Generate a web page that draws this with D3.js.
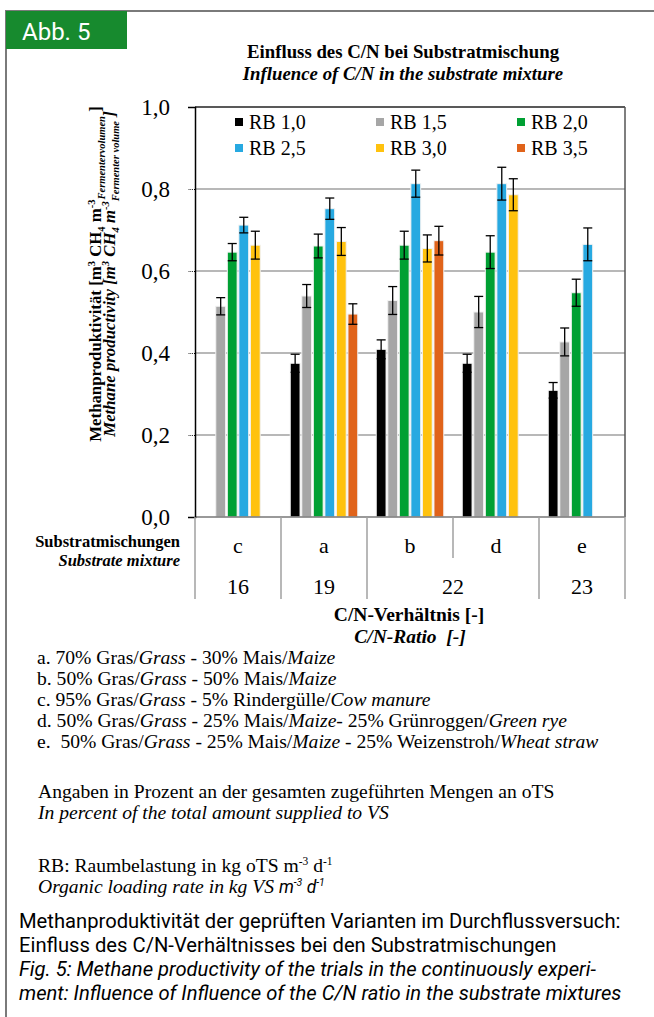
<!DOCTYPE html>
<html><head><meta charset="utf-8">
<script src="https://cdn.jsdelivr.net/npm/d3@7"></script>
<style>
html,body{margin:0;padding:0;background:#fff;}
svg text{font-family:"Liberation Serif","Times New Roman",serif;white-space:pre;}
.sans{font-family:Roboto,"Liberation Sans",sans-serif !important;}
</style></head>
<body><svg id="c" width="654" height="1017"></svg>
<script>
const categories = ["c", "a", "b", "d", "e"];
const cnLabels = ["16", "19", "22", "23"];
const cnSpanCount = [1, 1, 2, 1];
const series = ["RB 1,0", "RB 1,5", "RB 2,0", "RB 2,5", "RB 3,0", "RB 3,5"];
const colors = ["#000000", "#a6a6a6", "#00a033", "#27a9e1", "#ffc20e", "#e0631a"];
const rb10 = [null, 0.375, 0.409, 0.375, 0.309];
const rb15 = [0.514, 0.539, 0.528, 0.500, 0.427];
const rb20 = [0.646, 0.661, 0.663, 0.646, 0.547];
const rb25 = [0.712, 0.752, 0.813, 0.813, 0.665];
const rb30 = [0.663, 0.672, 0.655, 0.786, null];
const rb35 = [null, 0.495, 0.674, null, null];
const err10 = [null, 0.022, 0.023, 0.022, 0.019];
const err15 = [0.021, 0.028, 0.034, 0.038, 0.034];
const err20 = [0.021, 0.029, 0.034, 0.040, 0.033];
const err25 = [0.019, 0.026, 0.033, 0.040, 0.040];
const err30 = [0.034, 0.034, 0.033, 0.039, null];
const err35 = [null, 0.025, 0.035, null, null];
const yTicks = [0, 0.2, 0.4, 0.6, 0.8, 1.0];

const values = [rb10, rb15, rb20, rb25, rb30, rb35];
const errors = [err10, err15, err20, err25, err30, err35];

const svg = d3.select("#c");
const L = 195, R = 625, T = 107, B = 517;

// frame
svg.append("path").attr("d", `M6,1017 V11 H654`).attr("fill", "none").attr("stroke", "#7a7a7a").attr("stroke-width", 2);
svg.append("rect").attr("x", 6).attr("y", 11).attr("width", 121).attr("height", 38).attr("fill", "#178a2e");
svg.append("text").attr("class", "sans").attr("x", 22).attr("y", 40).attr("fill", "#fff")
  .attr("font-size", 24).text("Abb. 5");

// title
svg.append("text").attr("x", 403).attr("y", 58).attr("text-anchor", "middle").attr("font-size", 18.8).attr("font-weight", "bold")
  .text("Einfluss des C/N bei Substratmischung");
svg.append("text").attr("x", 403).attr("y", 80).attr("text-anchor", "middle").attr("font-size", 18.8).attr("font-weight", "bold").attr("font-style", "italic")
  .text("Influence of C/N in the substrate mixture");

const y = d3.scaleLinear().domain([0, 1]).range([B, T]);
const x0 = d3.scaleBand().domain(categories).range([L, R]).padding(0);
const x1 = d3.scaleBand().domain(series).range([0, x0.bandwidth()]).paddingInner(0.15).paddingOuter(0.8);

// gridlines
svg.append("g").selectAll("line").data(yTicks.filter(d => d > 0 && d < 1)).join("line")
  .attr("x1", L).attr("x2", R).attr("y1", d => y(d)).attr("y2", d => y(d))
  .attr("stroke", "#a0a0a0").attr("stroke-width", 1.5);

// bars
const flat = [];
categories.forEach((c, ci) => series.forEach((s, si) => {
  if (values[si][ci] != null) flat.push({c, s, si, v: values[si][ci], e: errors[si][ci]});
}));
svg.append("g").selectAll("rect").data(flat).join("rect")
  .attr("x", d => x0(d.c) + x1(d.s)).attr("y", d => y(d.v))
  .attr("width", x1.bandwidth()).attr("height", d => y(0) - y(d.v))
  .attr("fill", d => colors[d.si]).attr("stroke", "#f2f2f2").attr("stroke-width", 1);

// error bars
const eg = svg.append("g").attr("stroke", "#000").attr("stroke-width", 1.3);
flat.forEach(d => {
  const cx = x0(d.c) + x1(d.s) + x1.bandwidth() / 2;
  eg.append("line").attr("x1", cx).attr("x2", cx).attr("y1", y(d.v + d.e)).attr("y2", y(d.v - d.e));
  [d.v + d.e, d.v - d.e].forEach(v => eg.append("line").attr("x1", cx - 4.5).attr("x2", cx + 4.5).attr("y1", y(v)).attr("y2", y(v)));
});

// plot border
svg.append("line").attr("x1", L).attr("x2", R).attr("y1", T).attr("y2", T).attr("stroke", "#222").attr("stroke-width", 1.5);
svg.append("line").attr("x1", R).attr("x2", R).attr("y1", T).attr("y2", B).attr("stroke", "#555").attr("stroke-width", 1.5);
svg.append("line").attr("x1", L).attr("x2", R).attr("y1", B).attr("y2", B).attr("stroke", "#777").attr("stroke-width", 1.5);

// y axis
const yAxis = svg.append("g").attr("transform", `translate(${L},0)`)
  .call(d3.axisLeft(y).tickValues(yTicks).tickSize(7).tickPadding(18).tickFormat(d => d3.format(".1f")(d).replace(".", ",")));
yAxis.select(".domain").attr("stroke", "#000").attr("stroke-width", 1.5);
yAxis.selectAll(".tick line").attr("stroke", "#000").attr("stroke-dasharray", "1,1.2");
yAxis.selectAll(".tick text").attr("font-size", 23).attr("font-family", "Liberation Serif, serif").attr("fill", "#000");

// legend
const legX = [235, 376, 517], legY = [122, 148];
series.forEach((s, i) => {
  const lx = legX[i % 3], ly = legY[Math.floor(i / 3)];
  svg.append("rect").attr("x", lx).attr("y", ly - 4).attr("width", 8).attr("height", 8).attr("fill", colors[i]);
  svg.append("text").attr("x", lx + 14).attr("y", ly + 7).attr("font-size", 20).text(s);
});

// category table
const sep = svg.append("g").attr("stroke", "#a0a0a0").attr("stroke-width", 1.5);
categories.forEach((c, i) => {
  const xx = x0(c);
  sep.append("line").attr("x1", xx).attr("x2", xx).attr("y1", B).attr("y2", c === "d" ? 558 : 599);
  svg.append("text").attr("x", xx + x0.bandwidth() / 2).attr("y", 553).attr("text-anchor", "middle").attr("font-size", 22).text(c);
});
sep.append("line").attr("x1", R).attr("x2", R).attr("y1", B).attr("y2", 599);
let idx = 0;
cnLabels.forEach((lab, i) => {
  const first = categories[idx], last = categories[idx + cnSpanCount[i] - 1];
  const cx = (x0(first) + x0(last) + x0.bandwidth()) / 2;
  svg.append("text").attr("x", cx).attr("y", 594).attr("text-anchor", "middle").attr("font-size", 22).text(lab);
  idx += cnSpanCount[i];
});

svg.append("text").attr("x", 180).attr("y", 547).attr("text-anchor", "end").attr("font-size", 16.5).attr("font-weight", "bold").text("Substratmischungen");
svg.append("text").attr("x", 180).attr("y", 566).attr("text-anchor", "end").attr("font-size", 16.5).attr("font-weight", "bold").attr("font-style", "italic").text("Substrate mixture");

svg.append("text").attr("x", 409).attr("y", 621).attr("text-anchor", "middle").attr("font-size", 19.5).attr("font-weight", "bold").text("C/N-Verhältnis [-]");
svg.append("text").attr("x", 410).attr("y", 643).attr("text-anchor", "middle").attr("font-size", 19.5).attr("font-weight", "bold").attr("font-style", "italic").text("C/N-Ratio  [-]");

// y axis title
function yTitle(xPos, italic, parts) {
  const t = svg.append("text").attr("transform", `translate(${xPos},${274}) rotate(-90)`)
    .attr("text-anchor", "middle").attr("font-size", 16.8).attr("font-weight", "bold");
  if (italic) t.attr("font-style", "italic");
  parts.forEach(p => {
    const ts = t.append("tspan").text(p.t);
    if (p.sup) ts.attr("font-size", 10.5).attr("baseline-shift", "6");
    if (p.sub) ts.attr("font-size", 10.5).attr("baseline-shift", "-4");
    if (p.it) ts.attr("font-style", "italic");
  });
}
yTitle(101, false, [{t: "Methanproduktivität [m"}, {t: "3", sup: 1}, {t: " CH"}, {t: "4", sub: 1}, {t: " m"}, {t: "-3", sup: 1}, {t: "Fermentervolumen", sub: 1, it: 1}, {t: " ]"}]);
yTitle(115, true, [{t: "Methane productivity [m"}, {t: "3", sup: 1}, {t: " CH"}, {t: "4", sub: 1}, {t: " m"}, {t: "-3", sup: 1}, {t: "Fermenter volume", sub: 1}, {t: " ]"}]);

// notes
const notes = [
  [["a. 70% Gras/"], ["Grass", 1], [" - 30% Mais/"], ["Maize", 1]],
  [["b. 50% Gras/"], ["Grass", 1], [" - 50% Mais/"], ["Maize", 1]],
  [["c. 95% Gras/"], ["Grass", 1], [" - 5% Rindergülle/"], ["Cow manure", 1]],
  [["d. 50% Gras/"], ["Grass", 1], [" - 25% Mais/"], ["Maize", 1], ["- 25% Grünroggen/"], ["Green rye", 1]],
  [["e.  50% Gras/"], ["Grass", 1], [" - 25% Mais/"], ["Maize", 1], [" - 25% Weizenstroh/"], ["Wheat straw", 1]]
];
const noteFs = 19.6;
notes.forEach((n, i) => {
  const t = svg.append("text").attr("x", 37).attr("y", 664 + i * 21).attr("font-size", noteFs);
  n.forEach(p => { const ts = t.append("tspan").text(p[0]); if (p[1]) ts.attr("font-style", "italic"); });
});
svg.append("text").attr("x", 38).attr("y", 798).attr("font-size", noteFs).text("Angaben in Prozent an der gesamten zugeführten Mengen an oTS");
svg.append("text").attr("x", 38).attr("y", 819).attr("font-size", noteFs).attr("font-style", "italic").text("In percent of the total amount supplied to VS");

const rb1 = svg.append("text").attr("x", 38).attr("y", 872).attr("font-size", noteFs);
rb1.append("tspan").text("RB: Raumbelastung in kg oTS m");
rb1.append("tspan").attr("font-size", 11.5).attr("baseline-shift", "7").text("-3");
rb1.append("tspan").text(" d");
rb1.append("tspan").attr("font-size", 11.5).attr("baseline-shift", "7").text("-1");
const rb2 = svg.append("text").attr("x", 38).attr("y", 893).attr("font-size", noteFs).attr("font-style", "italic");
rb2.append("tspan").text("Organic loading rate in kg VS ");
rb2.append("tspan").attr("class", "sans").attr("font-size", 17.5).text("m");
rb2.append("tspan").attr("class", "sans").attr("font-size", 10.5).attr("baseline-shift", "7").text("-3");
rb2.append("tspan").attr("class", "sans").attr("font-size", 17.5).text(" d");
rb2.append("tspan").attr("class", "sans").attr("font-size", 10.5).attr("baseline-shift", "7").text("-1");

// caption
const cap = [
  ["Methanproduktivität der geprüften Varianten im Durchflussversuch:", 0],
  ["Einfluss des C/N-Verhältnisses bei den Substratmischungen", 0],
  ["Fig. 5: Methane productivity of the trials in the continuously experi-", 1],
  ["ment: Influence of Influence of the C/N ratio in the substrate mixtures", 1]
];
cap.forEach((c, i) => {
  const t = svg.append("text").attr("class", "sans").attr("x", 19).attr("y", 928 + i * 24).attr("font-size", 20.2).text(c[0]);
  if (c[1]) t.attr("font-style", "italic");
});
</script></body></html>
